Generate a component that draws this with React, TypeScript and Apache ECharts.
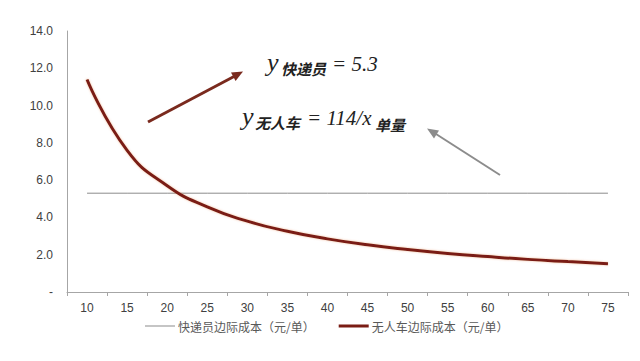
import React, { useEffect, useRef } from "react";
import * as echarts from "echarts";

const categories = ["10", "15", "20", "25", "30", "35", "40", "45", "50", "55", "60", "65", "70", "75"];
const courierCost = [5.3, 5.3, 5.3, 5.3, 5.3, 5.3, 5.3, 5.3, 5.3, 5.3, 5.3, 5.3, 5.3, 5.3];
const vehicleCost = [11.4, 7.6, 5.7, 4.56, 3.8, 3.26, 2.85, 2.53, 2.28, 2.07, 1.9, 1.75, 1.63, 1.52];
const seriesNames = ["快递员边际成本（元/单）", "无人车边际成本（元/单）"];

const serif = "'Liberation Serif', 'DejaVu Serif', serif";
const cjk = "'Noto Sans CJK SC', sans-serif";

const thinIcon = "path://M0 4.5H30V5.5H0Z M0 0H0.01V0.01H0Z M29.99 9.99H30V10H29.99Z";
const thickIcon = "path://M0 3.5H30V6.5H0Z M0 0H0.01V0.01H0Z M29.99 9.99H30V10H29.99Z";

export default function App() {
  const ref = useRef<HTMLDivElement>(null);
  useEffect(() => {
    if (!ref.current) return;
    const chart = echarts.init(ref.current, null, { renderer: "svg" });
    chart.setOption({
      animation: false,
      backgroundColor: "#ffffff",
      grid: { left: 67, right: 12, top: 31, bottom: 69 },
      legend: {
        left: 140,
        top: 315,
        itemWidth: 30,
        itemHeight: 10,
        itemGap: 24,
        symbolKeepAspect: false,
        textStyle: { color: "#595959", fontSize: 12, fontFamily: cjk, padding: [0, 0, 0, -2] },
        data: [
          { name: seriesNames[0], icon: thinIcon },
          { name: seriesNames[1], icon: thickIcon },
        ],
      },
      xAxis: {
        type: "category",
        data: categories,
        boundaryGap: true,
        axisLine: { show: true, lineStyle: { color: "#a6a6a6", width: 1 } },
        axisTick: { show: true, length: 4, lineStyle: { color: "#a6a6a6" } },
        axisLabel: { color: "#404040", fontSize: 12, margin: 10, fontFamily: "'Liberation Sans', sans-serif" },
      },
      yAxis: {
        type: "value",
        min: 0,
        max: 14,
        interval: 2,
        splitLine: { show: false },
        axisLine: { show: true, lineStyle: { color: "#a6a6a6", width: 1 } },
        axisTick: { show: false },
        axisLabel: {
          color: "#404040",
          fontSize: 12,
          margin: 14,
          fontFamily: "'Liberation Sans', sans-serif",
          formatter: (v: number) => (v === 0 ? "-" : v.toFixed(1)),
        },
      },
      series: [
        {
          name: seriesNames[0],
          type: "line",
          data: courierCost,
          symbol: "none",
          lineStyle: { color: "#8c8c8c", width: 1 },
          itemStyle: { color: "#8c8c8c" },
        },
        {
          name: seriesNames[1],
          type: "line",
          data: vehicleCost,
          symbol: "none",
          smooth: 0.5,
          lineStyle: { color: "#7a1c14", width: 3, shadowColor: "rgba(230,130,80,0.5)", shadowBlur: 2 },
          itemStyle: { color: "#7a1c14" },
        },
      ],
      graphic: [
        // arrow 1 (dark red)
        { type: "line", shape: { x1: 148, y1: 122, x2: 234, y2: 76.5 }, style: { stroke: "#7a2a1e", lineWidth: 3 } },
        { type: "polygon", shape: { points: [[243, 71.5], [235.6, 81], [231, 72.5]] }, style: { fill: "#7a2a1e" } },
        // arrow 2 (gray)
        { type: "line", shape: { x1: 500, y1: 175, x2: 436, y2: 134 }, style: { stroke: "#8c8c8c", lineWidth: 2 } },
        { type: "polygon", shape: { points: [[427, 128.5], [439, 130.6], [434, 138.5]] }, style: { fill: "#8c8c8c" } },
        // formula 1
        { type: "text", x: 267, y: 75, style: { text: "y", font: `italic 26px ${serif}`, fill: "#222", verticalAlign: "bottom" } },
        { type: "text", x: 281, y: 76, style: { text: "快递员", font: `italic bold 15px ${cjk}`, fill: "#222", verticalAlign: "bottom" } },
        { type: "text", x: 332, y: 74, style: { text: "= 5.3", font: `italic 21px ${serif}`, fill: "#222", verticalAlign: "bottom" } },
        // formula 2
        { type: "text", x: 242, y: 129, style: { text: "y", font: `italic 26px ${serif}`, fill: "#222", verticalAlign: "bottom" } },
        { type: "text", x: 255, y: 130, style: { text: "无人车", font: `italic bold 15px ${cjk}`, fill: "#222", verticalAlign: "bottom" } },
        { type: "text", x: 307, y: 128, style: { text: "= 114/x", font: `italic 21px ${serif}`, fill: "#222", verticalAlign: "bottom" } },
        { type: "text", x: 375, y: 132, style: { text: "单量", font: `italic bold 15px ${cjk}`, fill: "#222", verticalAlign: "bottom" } },
      ],
    });
    return () => chart.dispose();
  }, []);
  return <div ref={ref} style={{ width: 640, height: 361, position: "absolute", left: 0, top: 0 }} />;
}
